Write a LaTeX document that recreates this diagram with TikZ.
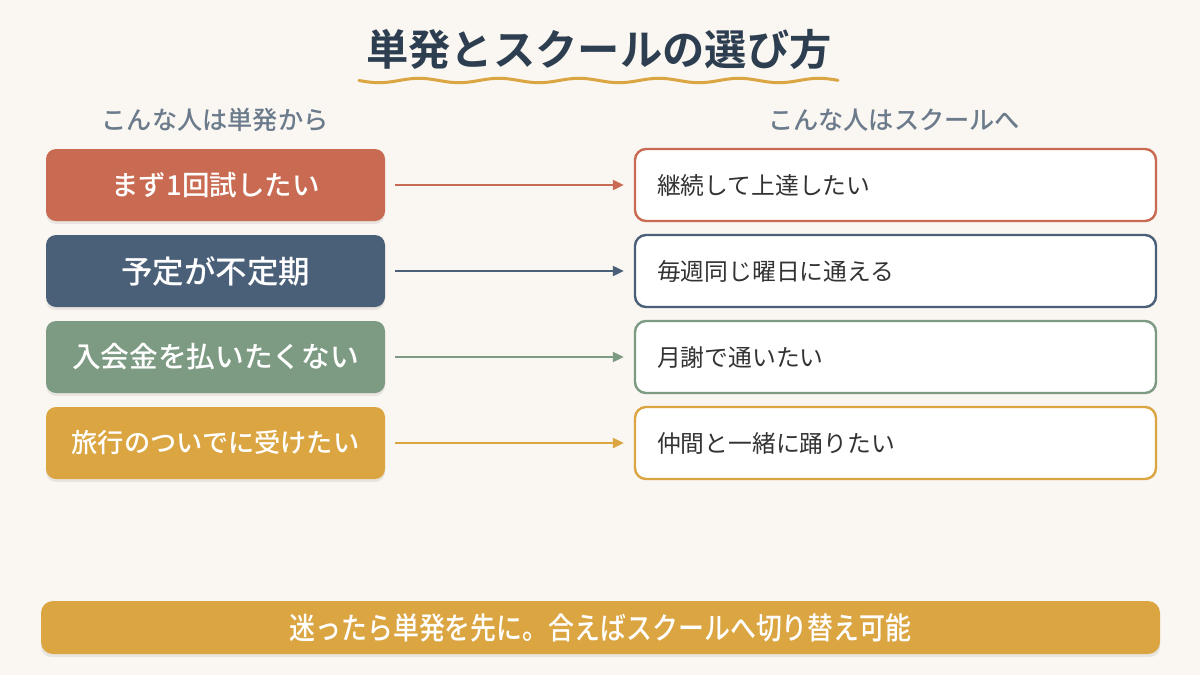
\documentclass[tikz,border=0pt]{standalone}
\usepackage{fontspec}
\usepackage{graphicx}
\setmainfont{Noto Sans CJK JP}[BoldFont={Noto Sans CJK JP Bold}]
\newfontfamily\jpmed{Noto Sans CJK JP Medium}
\usetikzlibrary{arrows.meta}
\definecolor{bgc}{HTML}{FAF6F1}
\definecolor{titlec}{HTML}{2C3E50}
\definecolor{subc}{HTML}{6B7B8C}
\definecolor{terra}{HTML}{C96B52}
\definecolor{slate}{HTML}{4A5F78}
\definecolor{sage}{HTML}{7D9B83}
\definecolor{mustard}{HTML}{DBA542}
\definecolor{textc}{HTML}{333333}
\tikzset{
  leftbox/.style={rounded corners=10pt, minimum width=339pt, minimum height=72pt, text=white, inner sep=0pt},
  rightbox/.style={rounded corners=11pt, draw=#1, line width=2.4pt, fill=white, minimum width=521pt, minimum height=72pt, text width=477pt, align=left, inner xsep=22pt, text=textc, font=\fontsize{23.8}{28}\selectfont},
  link/.style={draw=#1, line width=2.2pt, -{Triangle[length=11pt,width=10pt]}, shorten <=10pt, shorten >=10pt},
  subhead/.style={text=subc, font=\jpmed\fontsize{25.2}{30}\selectfont},
  shade/.style={fill=black, opacity=0.07, rounded corners=10pt}
}
\begin{document}
\begin{tikzpicture}[x=1pt,y=-1pt]
\useasboundingbox (0,0) rectangle (1200,675);
\fill[bgc] (0,0) rectangle (1200,675);
% title
\node[text=titlec, font=\bfseries\fontsize{42.3}{48}\selectfont] (title) at (599,49) {単発とスクールの選び方};
\draw[mustard, line width=3pt, line cap=round, domain=359:838, samples=120, smooth, variable=\t] plot (\t, {80.5+2.2*sin((\t-359)*4.5)});
% subheaders
\node[subhead] (hl) at (215,120) {こんな人は単発から};
\node[subhead] (hr) at (894,120) {こんな人はスクールへ};
% shadows
\foreach \yy in {185,271,357,443} {
  \fill[shade] (46,\yy-34) rectangle (385,\yy+39);
}
\fill[shade] (41,604) rectangle (1160,657);
% left boxes
\node[leftbox, fill=terra, font=\jpmed\fontsize{27.5}{32}\selectfont] (l1) at (215.5,185) {まず1回試したい};
\node[leftbox, fill=slate, font=\jpmed\fontsize{31.5}{35}\selectfont] (l2) at (215.5,271) {予定が不定期};
\node[leftbox, fill=sage, font=\jpmed\fontsize{28.7}{32}\selectfont] (l3) at (215.5,357) {入会金を払いたくない};
\node[leftbox, fill=mustard, font=\jpmed\fontsize{26.2}{30}\selectfont] (l4) at (215.5,443) {旅行のついでに受けたい};
% right boxes
\node[rightbox=terra] (r1) at (895.5,185) {継続して上達したい};
\node[rightbox=slate] (r2) at (895.5,271) {毎週同じ曜日に通える};
\node[rightbox=sage] (r3) at (895.5,357) {月謝で通いたい};
\node[rightbox=mustard] (r4) at (895.5,443) {仲間と一緒に踊りたい};
% arrows
\draw[link=terra] (l1) -- (r1);
\draw[link=slate] (l2) -- (r2);
\draw[link=sage] (l3) -- (r3);
\draw[link=mustard] (l4) -- (r4);
% banner
\node[fill=mustard, rounded corners=12pt, minimum width=1119pt, minimum height=53pt, text=white, font=\jpmed\fontsize{30.5}{34}\selectfont, inner sep=0pt] (banner) at (600.5,627.5) {\scalebox{0.85}[1]{迷ったら単発を先に。合えばスクールへ切り替え可能}};
\end{tikzpicture}
\end{document}
